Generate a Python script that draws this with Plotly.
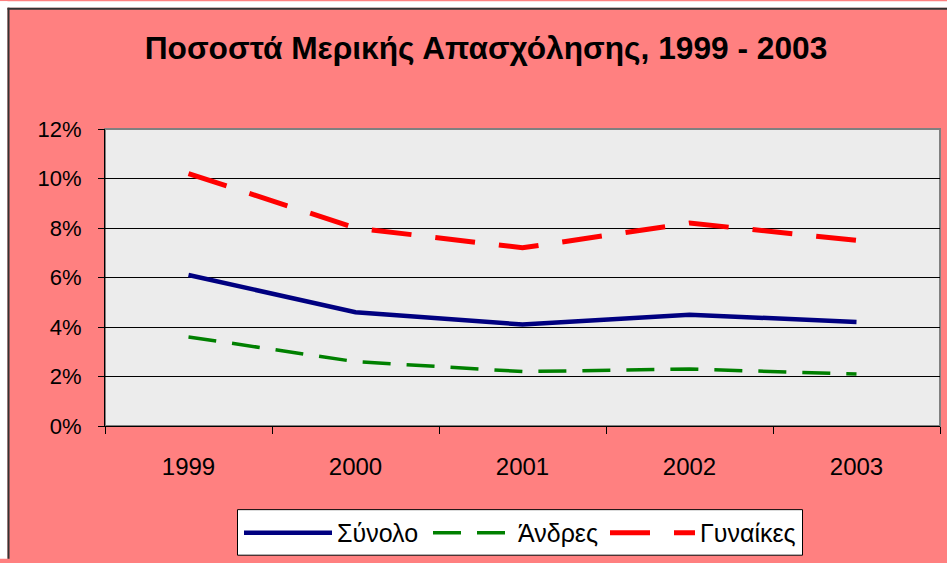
import plotly.graph_objects as go

years = ["1999", "2000", "2001", "2002", "2003"]
total = [0.061, 0.046, 0.041, 0.045, 0.042]
men = [0.036, 0.026, 0.022, 0.023, 0.021]
women = [0.102, 0.080, 0.072, 0.082, 0.075]
names = ["Σύνολο", "Άνδρες", "Γυναίκες"]
title_text = "Ποσοστά Μερικής Απασχόλησης, 1999 - 2003"

FONT = "Liberation Sans, Arial, sans-serif"
PINK = "#FF8080"

fig = go.Figure()
fig.add_trace(go.Scatter(x=years, y=total, name=names[0], mode="lines", legend="legend",
                         line=dict(color="#000080", width=4.5)))
fig.add_trace(go.Scatter(x=years, y=men, name=names[1], mode="lines", legend="legend2",
                         line=dict(color="#008000", width=3.5, dash="28px,16px")))
fig.add_trace(go.Scatter(x=years, y=women, name=names[2], mode="lines", legend="legend3",
                         line=dict(color="#FF0000", width=5, dash="40px,24px")))

W, H = 947, 563
L, R, T, B = 105, 7, 129, 134
pw, ph = W - L - R, H - T - B


def px_x(x):
    return (x - L) / pw


def px_y(y):
    return (H - B - y) / ph


def leg(xpix, iw):
    return dict(orientation="h", x=px_x(xpix), xanchor="left", y=px_y(537), yanchor="middle",
                bgcolor="rgba(0,0,0,0)", borderwidth=0, itemwidth=iw,
                font=dict(family=FONT, size=25, color="black"))


fig.update_layout(
    width=W, height=H,
    margin=dict(l=L, r=R, t=T, b=B, pad=0),
    paper_bgcolor=PINK,
    plot_bgcolor="#ECECEC",
    font=dict(family=FONT, color="black", size=22),
    title=dict(text="<b>" + title_text + "</b>", x=486 / W, xref="container",
               xanchor="center", y=1 - 48 / H, yref="container", yanchor="middle",
               font=dict(family=FONT, size=31.7, color="black")),
    showlegend=True,
    legend=leg(239, 88),
    legend2=leg(428, 80),
    legend3=leg(605, 85),
    shapes=[
        dict(type="rect", xref="paper", yref="paper", layer="above",
             x0=px_x(0), x1=px_x(W), y0=px_y(6.5), y1=px_y(0),
             fillcolor="white", line=dict(width=0)),
        dict(type="rect", xref="paper", yref="paper", layer="above",
             x0=px_x(0), x1=px_x(7.5), y0=px_y(H), y1=px_y(0),
             fillcolor="white", line=dict(width=0)),
        dict(type="line", xref="paper", yref="paper", layer="above",
             x0=px_x(8.5), x1=px_x(8.5), y0=px_y(H), y1=px_y(6.5),
             line=dict(color="#333333", width=2)),
        dict(type="line", xref="paper", yref="paper", layer="above",
             x0=px_x(7.5), x1=px_x(W), y0=px_y(7.5), y1=px_y(7.5),
             line=dict(color="#333333", width=2)),
        dict(type="rect", xref="paper", yref="paper", layer="below",
             x0=0, x1=1, y0=0, y1=1,
             line=dict(color="#808080", width=2)),
        dict(type="rect", xref="paper", yref="paper", layer="above",
             x0=px_x(237.5), x1=px_x(802.5), y0=px_y(559.5), y1=px_y(513.5),
             fillcolor="white", line=dict(color="black", width=1)),
    ],
)

fig.update_xaxes(range=[-0.5, 4.5], showgrid=False, showline=True, linecolor="black", linewidth=1,
                 ticks="outside", tickson="boundaries", ticklen=7, tickcolor="black",
                 tickfont=dict(family=FONT, size=24, color="black"),
                 ticklabelstandoff=19, zeroline=False, fixedrange=True)
fig.update_yaxes(range=[0, 0.12], dtick=0.02, tick0=0, tickformat=".0%",
                 showgrid=True, gridcolor="black", gridwidth=1,
                 showline=True, linecolor="black", linewidth=1,
                 ticks="outside", ticklen=6, tickcolor="black",
                 tickfont=dict(family=FONT, size=22, color="black"),
                 ticklabelstandoff=12, zeroline=False, fixedrange=True)

page_css = (
    "var h=document.documentElement,b=document.body;"
    "h.style.margin='0';h.style.padding='0';h.style.overflow='hidden';"
    "b.style.margin='0';b.style.padding='0';b.style.overflow='hidden';"
)
fig.write_html("out.html", config={"displayModeBar": False, "staticPlot": True},
               post_script=page_css)
